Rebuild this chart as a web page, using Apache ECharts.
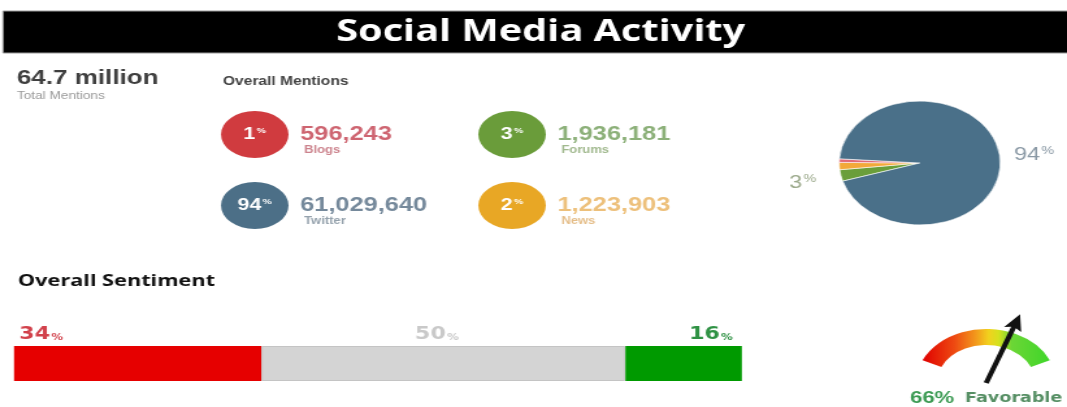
<!DOCTYPE html>
<html><head><meta charset="utf-8">
<script src="https://cdn.jsdelivr.net/npm/echarts@6/dist/echarts.min.js"></script>
<style>
html,body{margin:0;padding:0;background:#fff;overflow:hidden;width:1067px;height:407px;}
#chart{width:821px;height:407px;transform:scaleX(1.29963);transform-origin:0 0;}
</style></head><body><div id="chart"></div>
<script>
// ---- data ----
const titleText = 'Social Media Activity';
const totalMentionsText = '64.7 million';
const totalMentionsCaption = 'Total Mentions';
const mentionsHeading = 'Overall Mentions';
const mentionNames = ['Blogs', 'Forums', 'Twitter', 'News'];
const mentionCounts = [596243, 1936181, 61029640, 1223903];
const mentionPercents = [1, 3, 94, 2];
const sentimentHeading = 'Overall Sentiment';
const sentimentNames = ['Negative', 'Neutral', 'Positive'];
const sentimentValues = [34, 50, 16];
const favorableValue = 66;
const favorableCaption = 'Favorable';

// ---- styles ----
const circleColors = ['#d03b3f', '#6a9c3a', '#4c6f87', '#e8a725'];
const numberColors = ['#c23e4e', '#6f9c58', '#526b82', '#e9b05a'];
const nameColors = ['#bf6470', '#8aa872', '#7b8b99', '#dfae6c'];
const pieColors = ['#e06a78', '#6a9e3a', '#4a7089', '#f2a93a'];
const sentimentColors = ['#e60000', '#d4d4d4', '#009a00'];
const sentimentLabelColors = ['#d2424c', '#c9c9c9', '#2f9244'];

const chart = echarts.init(document.getElementById('chart'), null, {renderer: 'canvas'});

const numRich = {};
mentionNames.forEach((n, i) => {
  numRich['n' + i] = {fontFamily: 'Liberation Sans', fontWeight: 'bold', fontSize: 19.5, lineHeight: 20, color: numberColors[i]};
  numRich['t' + i] = {fontFamily: 'Liberation Sans', fontWeight: 'bold', fontSize: 10, lineHeight: 10, color: nameColors[i], padding: [0, 0, 0, 3]};
});

const cellPos = (i) => [i % 2, Math.floor(i / 2)];

const pieOrder = [1, 3, 0, 2]; // Forums, News, Blogs, Twitter (clockwise)
const pieLabelShown = {Twitter: '#8a99a5', Forums: '#9caa8c'};

const sentRich = {};
sentimentNames.forEach((n, i) => {
  sentRich['v' + i] = {fontFamily: 'DejaVu Sans', fontWeight: 'bold', fontSize: 17, color: sentimentLabelColors[i]};
  sentRich['s' + i] = {fontFamily: 'DejaVu Sans', fontWeight: 'bold', fontSize: 9, color: sentimentLabelColors[i], padding: [5, 0, 0, 1]};
});
const sentLabelPos = [
  {position: [4, -11], align: 'left'},
  {position: ['50%', -11], align: 'center', offset: [-5, 0]},
  {position: ['100%', -11], align: 'right', offset: [-7, 0]}
];

const gaugeGradient = new echarts.graphic.LinearGradient(0, 0, 1, 0, [
  {offset: 0, color: '#e00000'},
  {offset: 0.25, color: '#ee4a12'},
  {offset: 0.42, color: '#f39a1c'},
  {offset: 0.52, color: '#f2d21e'},
  {offset: 0.6, color: '#d4e21e'},
  {offset: 0.7, color: '#6cd636'},
  {offset: 1, color: '#3fd62a'}
]);

const option = {
  backgroundColor: '#fff',
  animation: false,
  graphic: [
    {type: 'rect', shape: {x: 2.3, y: 11, width: 830, height: 42}, style: {fill: '#000', stroke: '#9a9a9a', lineWidth: 1}},
    {type: 'text', x: 416, y: 32, style: {text: titleText, font: 'bold 30.5px "Open Sans"', fill: '#fff', textAlign: 'center', textVerticalAlign: 'middle', align: 'center', verticalAlign: 'middle'}},
    {type: 'text', x: 13, y: 78, style: {text: totalMentionsText, font: 'bold 20px "Liberation Sans"', fill: '#3f3f3f', textVerticalAlign: 'middle', verticalAlign: 'middle'}},
    {type: 'text', x: 13, y: 96, style: {text: totalMentionsCaption, font: '10.5px "Liberation Sans"', fill: '#9a9a9a', textVerticalAlign: 'middle', verticalAlign: 'middle'}},
    {type: 'text', x: 171.5, y: 82, style: {text: mentionsHeading, font: 'bold 12px "Liberation Sans"', fill: '#444', textVerticalAlign: 'middle', verticalAlign: 'middle'}},
    {type: 'text', x: 13.8, y: 281, style: {text: sentimentHeading, font: 'bold 16.7px "Open Sans"', fill: '#111', textVerticalAlign: 'middle', verticalAlign: 'middle'}}
  ],
  grid: [
    {left: 97, top: 99, width: 396, height: 142},
    {left: 10.8, top: 346, width: 560, height: 35}
  ],
  xAxis: [
    {gridIndex: 0, type: 'category', data: ['0', '1'], show: false},
    {gridIndex: 1, type: 'value', min: 0, max: 100, show: false}
  ],
  yAxis: [
    {gridIndex: 0, type: 'category', data: ['0', '1'], inverse: true, show: false},
    {gridIndex: 1, type: 'category', data: ['sentiment'], show: false}
  ],
  series: [
    {
      type: 'scatter', xAxisIndex: 0, yAxisIndex: 0, symbol: 'circle', symbolSize: [52, 47], silent: true,
      data: mentionNames.map((n, i) => ({name: n, value: cellPos(i), itemStyle: {color: circleColors[i], opacity: 1}})),
      label: {
        show: true, position: 'inside',
        formatter: p => `{p|${mentionPercents[p.dataIndex]}}{s|%}`,
        rich: {
          p: {fontFamily: 'Liberation Sans', fontWeight: 'bold', fontSize: 16.5, color: '#fff'},
          s: {fontFamily: 'Liberation Sans', fontWeight: 'bold', fontSize: 8, color: '#fff', padding: [0, 0, 7, 1]}
        }
      }
    },
    {
      type: 'scatter', xAxisIndex: 0, yAxisIndex: 0, symbol: 'circle', symbolSize: [52, 47], silent: true,
      itemStyle: {color: 'rgba(0,0,0,0)'},
      data: mentionNames.map((n, i) => ({name: n, value: cellPos(i)})),
      label: {
        show: true, position: 'right', distance: 9, offset: [0, 5.5],
        formatter: p => `{n${p.dataIndex}|${mentionCounts[p.dataIndex].toLocaleString('en-US')}}\n{t${p.dataIndex}|${mentionNames[p.dataIndex]}}`,
        rich: numRich
      }
    },
    {
      type: 'pie', center: [707.7, 163], radius: 62, startAngle: 197, clockwise: true,
      avoidLabelOverlap: false, silent: true,
      itemStyle: {borderColor: '#fff', borderWidth: 0.6},
      labelLine: {show: false, length: 6, length2: 0},
      labelLayout: p => (p.dataIndex === 0 ? {dx: -8, dy: 6} : {}),
      data: pieOrder.map(i => ({
        name: mentionNames[i], value: mentionCounts[i], itemStyle: {color: pieColors[i]},
        label: {
          show: !!pieLabelShown[mentionNames[i]], position: 'outside',
          formatter: () => `{v|${mentionPercents[i]}}{s|%}`,
          rich: {
            v: {fontFamily: 'Liberation Sans', fontSize: 18, color: pieLabelShown[mentionNames[i]] || '#999'},
            s: {fontFamily: 'Liberation Sans', fontSize: 11, color: pieLabelShown[mentionNames[i]] || '#999', padding: [0, 0, 8, 1]}
          }
        }
      }))
    },
    ...sentimentNames.map((n, i) => ({
      type: 'bar', name: n, xAxisIndex: 1, yAxisIndex: 1, stack: 'sentiment', barWidth: 35, silent: true,
      data: [sentimentValues[i]],
      itemStyle: {color: sentimentColors[i], borderColor: i === 1 ? '#c4c4c4' : sentimentColors[i], borderWidth: i === 1 ? 1 : 0},
      label: Object.assign({
        show: true, verticalAlign: 'middle',
        formatter: p => `{v${i}|${p.value}}{s${i}|%}`,
        rich: sentRich
      }, sentLabelPos[i])
    })),
    {
      type: 'gauge', center: [758.8, 383], radius: 54, startAngle: 155, endAngle: 25, min: 0, max: 100, silent: true,
      axisLine: {lineStyle: {width: 16, color: [[1, gaugeGradient]]}},
      splitLine: {show: false}, axisTick: {show: false}, axisLabel: {show: false},
      progress: {show: false}, anchor: {show: false}, title: {show: false},
      pointer: {
        icon: 'path://M7,0 L14,16 L9,14 L9,73 L5,73 L5,14 L0,16 Z',
        length: '136%', width: 14, itemStyle: {color: '#111'}
      },
      detail: {
        offsetCenter: [0, 15], valueAnimation: false,
        formatter: v => `{a|${v}%} {b|${favorableCaption}}`,
        rich: {
          a: {fontFamily: 'Liberation Sans', fontWeight: 'bold', fontSize: 17, color: '#3a9a52'},
          b: {fontFamily: 'DejaVu Sans', fontSize: 13.5, color: '#568f64'}
        }
      },
      data: [{value: favorableValue}]
    }
  ]
};
chart.setOption(option);
</script></body></html>
